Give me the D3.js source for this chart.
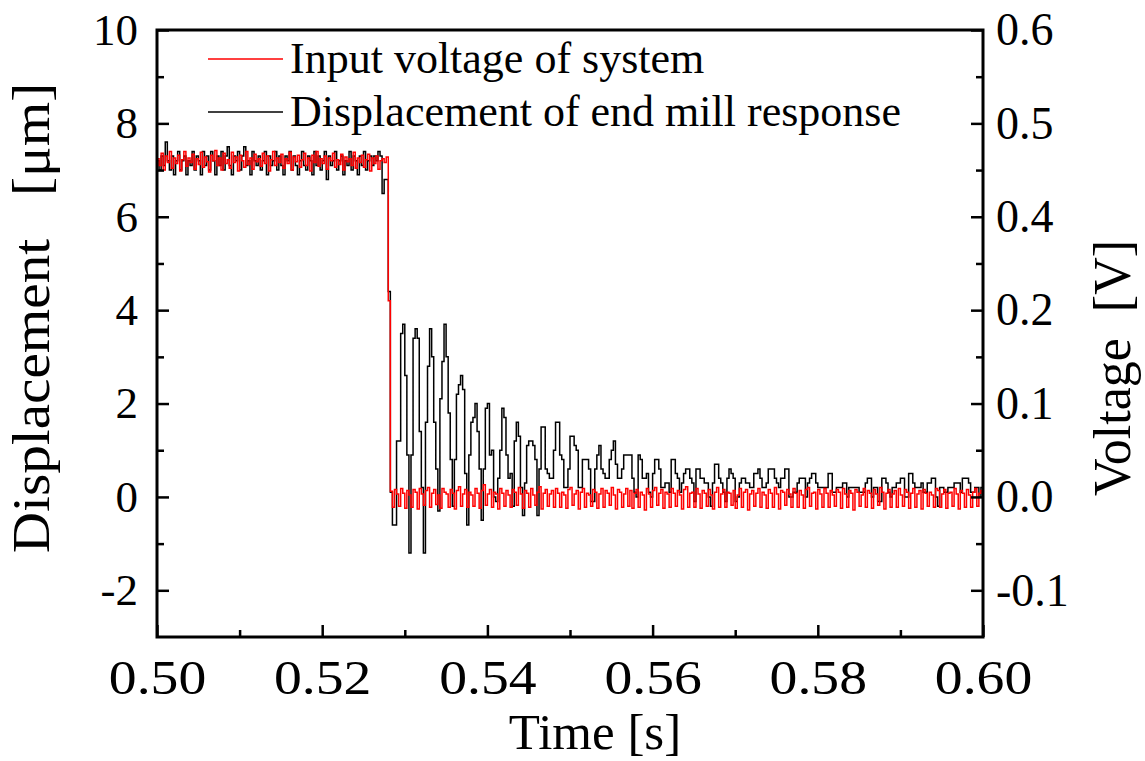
<!DOCTYPE html>
<html>
<head>
<meta charset="utf-8">
<script src="https://cdn.jsdelivr.net/npm/d3@7"></script>
<style>
body { margin: 0; background: #fff; }
text { font-family: "Liberation Serif", "Times New Roman", serif; fill: #000; }
</style>
</head>
<body>
<div id="chart"></div>
<script>
// sample clock of the recording
const t0 = 0.5;
const dt = 0.00025;

// displacement of end mill (left axis, um)
const displacement = [
7.2,7.0,7.3,7.1,7.6,7.2,7.0,7.3,6.9,7.2,
7.4,7.0,7.2,7.3,6.9,7.2,7.1,7.4,7.0,7.3,
7.2,6.9,7.4,7.1,7.3,7.0,7.4,7.2,6.9,7.3,
7.1,7.4,7.0,7.3,7.5,7.1,6.9,7.3,7.2,7.4,
7.0,7.3,7.5,7.1,7.2,6.9,7.4,7.2,7.1,7.3,
7.0,7.2,7.4,6.9,7.3,7.1,7.2,7.4,7.0,7.3,
7.1,6.9,7.3,7.2,7.4,7.0,7.3,7.1,6.9,7.2,
7.4,7.1,7.0,7.3,7.2,6.9,7.4,7.1,7.3,7.0,
7.2,7.4,6.8,7.3,7.1,7.2,7.4,7.0,7.2,7.3,
6.9,7.2,7.1,7.4,7.0,7.3,7.2,6.9,7.3,7.1,
7.4,7.0,7.2,7.3,7.1,7.3,7.2,7.4,7.3,6.5,
6.8,6.8,4.4,0.1,-0.6,-0.6,1.2,1.2,3.5,3.7,
2.6,0.9,-1.2,0.9,3.4,3.6,3.4,1.4,0.2,-1.2,
1.6,2.8,3.6,3.0,1.6,0.6,-0.3,2.1,2.9,3.7,
3.0,1.8,0.8,-0.2,0.8,2.2,2.4,2.6,2.3,0.5,
-0.6,0.9,1.6,1.7,2.0,1.4,0.6,-0.5,0.6,1.9,
2.0,0.9,1.0,0.0,-0.1,0.4,1.0,1.9,1.7,0.9,
0.4,0.5,-0.2,1.2,1.6,1.3,0.2,-0.4,0.3,1.1,
1.2,1.2,1.1,0.8,-0.4,0.6,1.5,1.5,0.6,0.5,
0.4,0.4,1.0,1.6,1.6,0.9,0.8,0.2,0.2,0.6,
1.3,1.3,1.1,1.0,0.2,0.2,0.8,0.8,0.8,0.6,
-0.1,-0.1,0.6,0.9,1.1,0.6,0.5,0.4,0.4,0.8,
1.0,1.2,0.7,0.4,0.4,0.6,0.9,0.9,0.9,0.9,
0.4,0.1,0.0,0.9,0.8,0.4,0.4,0.5,0.1,0.0,
0.5,0.8,0.8,0.6,0.2,0.2,0.3,0.3,0.1,0.8,
0.8,0.5,0.4,0.1,0.3,0.5,0.6,0.6,0.4,0.3,
-0.1,0.6,0.6,0.4,0.4,0.3,0.3,0.0,-0.2,0.3,
0.7,0.7,0.4,0.3,0.1,-0.1,0.4,0.6,0.5,0.4,
-0.1,0.0,0.3,0.4,0.4,0.3,0.3,0.2,0.2,0.5,
0.5,0.6,0.4,0.2,0.2,0.3,0.6,0.6,0.6,0.4,
0.3,0.2,0.4,0.4,0.6,0.6,0.0,0.0,0.1,0.1,
0.3,0.4,0.4,0.4,0.0,0.3,0.4,0.5,0.5,0.3,
0.2,0.2,0.2,0.2,0.2,0.5,0.5,0.1,0.1,0.2,
0.2,0.2,0.3,0.3,0.0,0.2,0.2,0.2,0.2,0.2,
0.1,0.1,0.1,0.3,0.4,0.4,0.0,0.2,0.2,-0.1,
-0.1,0.4,0.4,0.3,0.1,0.0,0.2,0.2,0.3,0.3,
0.4,0.4,0.0,0.0,0.5,0.5,0.3,0.2,0.2,0.2,
0.3,0.1,0.1,0.3,0.3,0.4,0.4,0.0,-0.2,0.2,
0.2,0.1,0.1,0.2,0.2,0.2,0.3,0.3,0.3,0.1,
0.4,0.4,0.4,0.3,0.1,0.1,0.2,0.2,0.0,0.2,
0.2];

// input voltage (right axis, V)
const voltage = [
.462,.455,.468,.450,.465,.458,.470,.452,.463,.457,
.466,.449,.461,.470,.454,.463,.458,.467,.451,.462,
.456,.469,.453,.464,.459,.448,.466,.460,.471,.455,
.463,.450,.468,.457,.461,.452,.469,.458,.464,.449,
.466,.460,.453,.470,.456,.463,.451,.467,.459,.462,
.454,.468,.457,.465,.449,.461,.470,.455,.463,.458,
.467,.452,.462,.457,.469,.450,.464,.459,.466,.453,
.461,.468,.455,.463,.449,.466,.458,.470,.454,.462,
.457,.465,.451,.463,.460,.468,.453,.461,.456,.467,
.450,.464,.459,.462,.455,.469,.452,.463,.458,.466,
.453,.461,.467,.449,.463,.457,.465,.451,.460,.462,
.458,.464,.220,
.006,-.011,.008,.003,-.010,.009,.004,-.012,
.007,.002,-.011,.008,.005,-.013,.009,.003,-.009,.007,
.010,-.011,.004,.008,-.008,.002,-.012,.009,.005,.003,
-.011,.008,.004,-.013,.007,.011,-.010,.003,.008,-.011,
.005,.002,-.010,.009,.004,-.012,.007,.013,-.009,.003,
.008,-.011,.005,.003,-.013,.009,.004,-.010,.007,.002,
-.011,.008,.005,-.009,.010,.003,-.012,.007,.004,-.011,
.009,.002,-.009,.005,.011,-.013,.004,.008,-.010,.003,
.007,-.011,.009,.004,-.011,.005,.002,-.012,.008,.010,
-.009,.003,.007,-.013,.005,.009,-.011,.004,.002,-.010,
.008,.005,-.012,.003,.009,-.011,.007,.004,-.009,.010,
.002,-.013,.008,.005,-.011,.003,.009,-.010,.007,-.012,
.004,.008,-.011,.005,.002,-.014,.009,.003,-.011,.007,
.010,-.009,.004,.008,-.012,.005,.003,-.011,.009,.004,
-.010,.007,.002,-.013,.008,.011,-.011,.004,.005,-.011,
.009,.003,-.012,.007,.004,-.010,.008,.002,-.013,.005,
.010,-.011,.003,.008,-.011,.005,.004,-.009,.007,-.012,
.002,.009,-.011,.005,.008,-.014,.003,.007,-.010,.004,
.009,-.011,.005,.002,-.012,.008,.004,-.011,.010,.003,
-.013,.007,.005,-.009,.008,.003,-.011,.009,.004,-.011,
.007,.002,-.012,.008,.010,-.010,.004,.005,-.013,.008,
.003,-.011,.009,.004,-.011,.007,.002,-.010,.008,.005,
-.012,.009,.003,-.011,.007,.004,-.014,.008,.005,-.010,
.002,.009,-.011,.007,.004,-.012,.008,.003,-.009,.010,
.005,-.013,.004,.008,-.011,.003,.007,-.011,.009,.002,
-.010,.008,.005,-.012,.004,.009,-.011,.003,.007,-.013,
.008,.004,-.010,.005,.002,-.011,.009,.007,-.011,.003,
.008,-.012,.004,.005,-.010,.009,.003,-.013,.007,.004,
-.011,.008,.002,-.011,.005,.009,-.010,.004,.007,-.009];

const xMajor = [0.50, 0.52, 0.54, 0.56, 0.58, 0.60];
const xMinor = [0.51, 0.53, 0.55, 0.57, 0.59];
const yMajor = [-2, 0, 2, 4, 6, 8, 10];
const yMinor = [-1, 1, 3, 5, 7, 9];
// right axis labels as printed (0.3 is not on the figure)
const vMajor = [-0.1, 0.0, 0.1, 0.2, 0.4, 0.5, 0.6];
const vMinor = [-0.05, 0.05, 0.15, 0.3, 0.45, 0.55];
const legendNames = ["Input voltage of system", "Displacement of end mill response"];
const legendColors = ["#ff0000", "#000000"];

let width = 1145, height = 761;
let mLeft = 157, mRight = 983, mTop = 30, mBottom = 637;

let svg = d3.select("#chart").append("svg")
    .attr("width", width)
    .attr("height", height);

svg.append("rect").attr("width", width).attr("height", height).attr("fill", "#fff");

let x = d3.scaleLinear().domain([0.5, 0.6]).range([mLeft, mRight]);
let y = d3.scaleLinear().domain([-3, 10]).range([mBottom, mTop]);
// voltage scale follows the printed right-hand labels
let yv = d3.scaleLinear()
    .domain([-0.15, 0.2, 0.4, 0.6])
    .range([y(-3), y(4), y(6), y(10)]);

function styleAxis(size) {
    return function (g) {
        g.select(".domain").remove();
        g.selectAll(".tick line").attr("stroke", "#000").attr("stroke-width", 2.5);
        g.selectAll(".tick text").attr("font-size", size).attr("font-family", "Liberation Serif");
    };
}

// data lines first, frame on top
let line = d3.line()
    .x((d, i) => x(t0 + i * dt))
    .curve(d3.curveStepAfter);

svg.append("path")
    .datum(displacement)
    .attr("fill", "none")
    .attr("stroke", "#000")
    .attr("stroke-width", 1.5)
    .attr("d", line.y(d => y(d)));

svg.append("path")
    .datum(voltage)
    .attr("fill", "none")
    .attr("stroke", "#ff0000")
    .attr("stroke-width", 1.5)
    .attr("d", line.y(d => yv(d)));

// bottom axis (labels are printed a little wide)
svg.append("g").attr("transform", `translate(0,${mBottom})`)
    .call(d3.axisBottom(x).tickValues(xMajor).tickFormat(d3.format(".2f")).tickSize(-12).tickPadding(23))
    .call(styleAxis(48))
    .selectAll(".tick text").attr("transform", "scale(1.16,1)");
svg.append("g").attr("transform", `translate(0,${mBottom})`)
    .call(d3.axisBottom(x).tickValues(xMinor).tickFormat("").tickSize(-7))
    .call(styleAxis(48));

// left axis
svg.append("g").attr("transform", `translate(${mLeft},0)`)
    .call(d3.axisLeft(y).tickValues(yMajor).tickFormat(d => String(d)).tickSize(-12).tickPadding(19))
    .call(styleAxis(45));
svg.append("g").attr("transform", `translate(${mLeft},0)`)
    .call(d3.axisLeft(y).tickValues(yMinor).tickFormat("").tickSize(-7))
    .call(styleAxis(45));

// right axis
svg.append("g").attr("transform", `translate(${mRight},0)`)
    .call(d3.axisRight(yv).tickValues(vMajor).tickFormat(d => d.toFixed(1)).tickSize(-12).tickPadding(13))
    .call(styleAxis(46));
svg.append("g").attr("transform", `translate(${mRight},0)`)
    .call(d3.axisRight(yv).tickValues(vMinor).tickFormat("").tickSize(-7))
    .call(styleAxis(46));

// frame
svg.append("rect")
    .attr("x", mLeft).attr("y", mTop)
    .attr("width", mRight - mLeft).attr("height", mBottom - mTop)
    .attr("fill", "none")
    .attr("stroke", "#000")
    .attr("stroke-width", 3);

// axis titles
svg.append("text")
    .attr("x", 595)
    .attr("y", 749)
    .attr("text-anchor", "middle")
    .attr("font-size", 51)
    .text("Time [s]");

svg.append("text")
    .attr("transform", "translate(49,318) rotate(-90) scale(1.1,1)")
    .attr("text-anchor", "middle")
    .attr("font-size", 52)
    .style("white-space", "pre")
    .text("Displacement   [\u03bcm]");

svg.append("text")
    .attr("transform", "translate(1130,368) rotate(-90)")
    .attr("text-anchor", "middle")
    .attr("font-size", 52)
    .style("white-space", "pre")
    .text("Voltage  [V]");

// legend
let legend = svg.selectAll(".legend")
    .data(legendNames)
    .enter().append("g")
    .attr("class", "legend")
    .attr("transform", (d, i) => `translate(208,${59 + i * 53})`);

legend.append("line")
    .attr("x1", 0).attr("x2", 75)
    .attr("stroke", (d, i) => legendColors[i])
    .attr("stroke-width", 1.3);

legend.append("text")
    .attr("x", 82)
    .attr("y", 14)
    .attr("font-size", 44)
    .text(d => d);
</script>
</body>
</html>
